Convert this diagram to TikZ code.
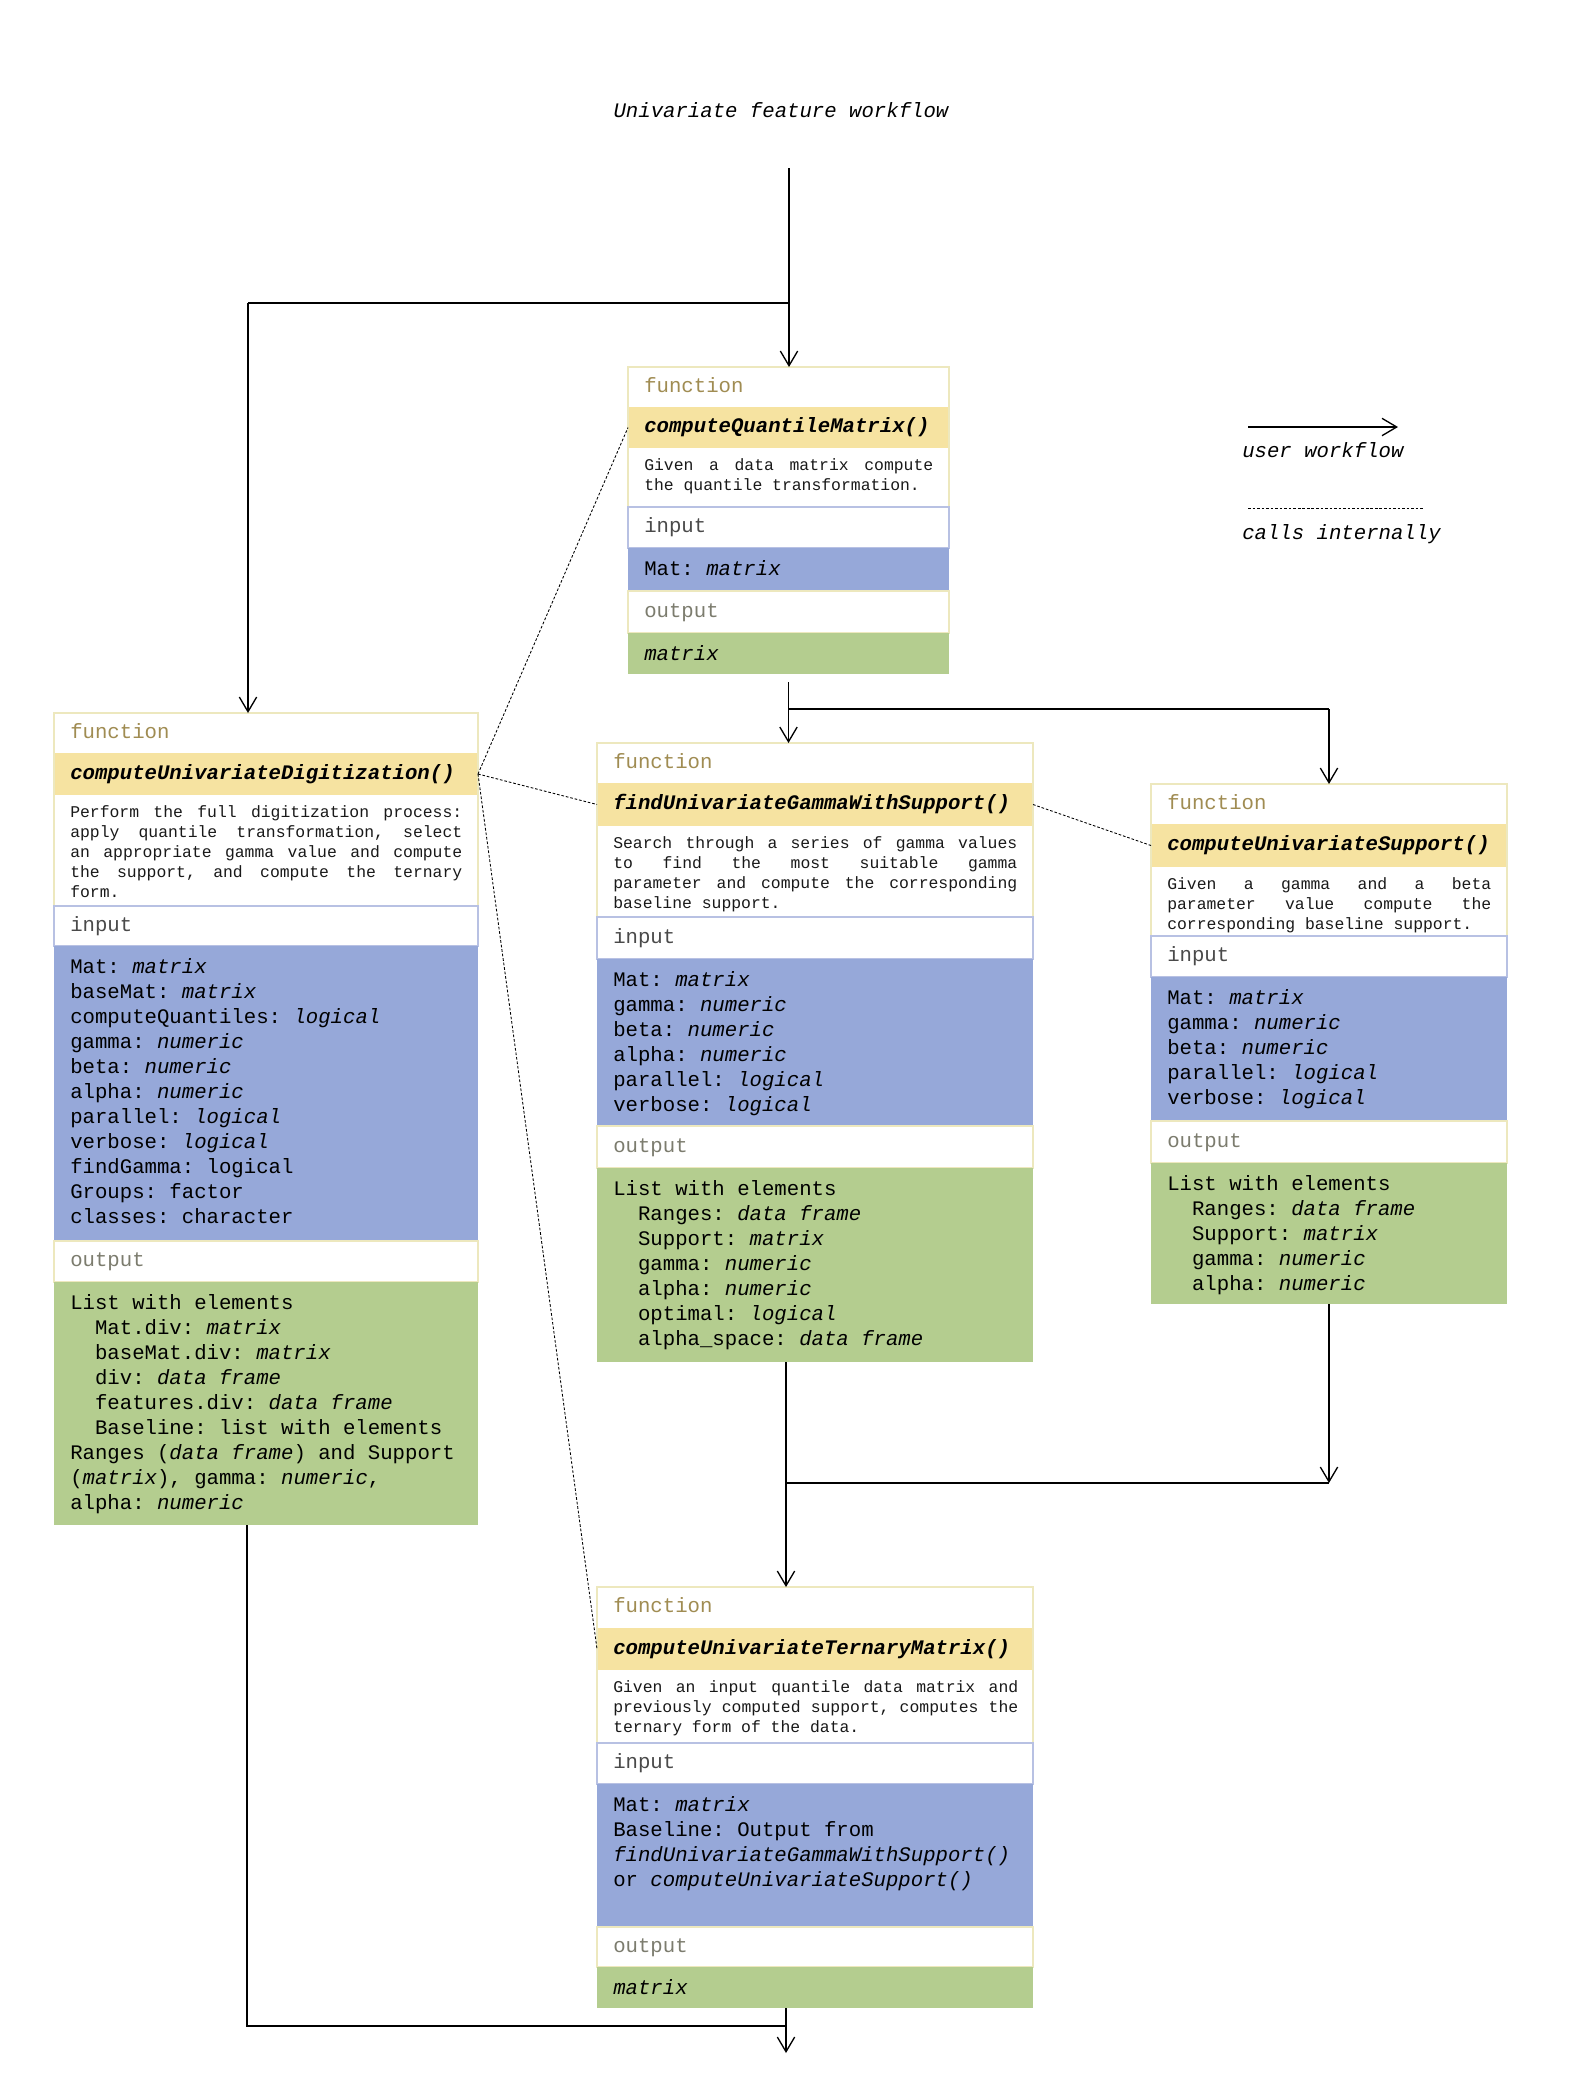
\documentclass[tikz,border=0pt]{standalone}
\usepackage{fontspec}
\setmainfont{Liberation Serif}
\newfontfamily\mono{Liberation Mono}
\usetikzlibrary{arrows.meta,fit,calc}
\definecolor{ylwband}{HTML}{F6E3A1}
\definecolor{blueband}{HTML}{96A8D9}
\definecolor{greenband}{HTML}{B4CD8F}
\definecolor{creamline}{HTML}{EDE8BE}
\definecolor{lavline}{HTML}{B8C1E3}
\definecolor{fncol}{HTML}{A08C52}
\definecolor{incol}{HTML}{4A4A4A}
\definecolor{outcol}{HTML}{7C7C6E}
\newcommand\mfont{\mono\fontsize{15.5}{18.75}\selectfont\frenchspacing}
\newcommand\dfont{\mono\fontsize{12.3}{15}\selectfont\frenchspacing}
\newcommand\fixsp{\spaceskip=0pt\xspaceskip=0pt\frenchspacing}
\newcommand\jl[1]{\makebox[\hsize][s]{\spaceskip=\fontdimen2\font plus 60pt\relax #1}\\}
\newcommand\ind{\hspace*{1.2em}}
\tikzset{
  band/.style={inner sep=0pt, outer sep=0pt},
  fnband/.style={band, fill=white},
  nameband/.style={band, fill=ylwband},
  descband/.style={band, fill=white},
  inband/.style={band, fill=white, draw=lavline, line width=1.1pt},
  invband/.style={band, fill=blueband},
  outband/.style={band, fill=white, draw=creamline, line width=1.1pt},
  outvband/.style={band, fill=greenband},
  boxline/.style={draw=creamline, line width=1.1pt},
  hdr/.style={anchor=west, xshift=12pt, inner sep=0pt, font=\mfont, execute at begin node=\strut},
  fnlbl/.style={hdr, text=fncol},
  inlbl/.style={hdr, text=incol},
  outlbl/.style={hdr, text=outcol},
  namelbl/.style={hdr, font=\mfont\bfseries\itshape},
  listtxt/.style={anchor=north west, xshift=12pt, yshift=-7pt, inner sep=0pt, font=\mfont, align=left, execute at begin node=\fixsp},
  desctxt/.style={anchor=north west, xshift=12pt, yshift=-6.5pt, inner sep=0pt, font=\dfont, align=left, text=black!90, execute at begin node=\fixsp},
  flow/.style={draw=black, line width=1pt, -{Straight Barb[length=11pt,width=13pt]}},
  flowline/.style={draw=black, line width=1pt},
  calls/.style={draw=black, line width=0.65pt, dash pattern=on 2pt off 1.4pt},
  legtxt/.style={anchor=west, inner sep=0pt, font=\mfont\itshape, execute at begin node=\strut},
}
\begin{document}
\begin{tikzpicture}[x=0.75pt, y=-0.75pt]
\useasboundingbox[fill=white] (0,0) rectangle (1575,2100);

% title
\node[font=\mfont\itshape, inner sep=0pt] (title) at (781,112) {\strut Univariate feature workflow};

% ---------- Box Q ----------
\node[fnband, fit={(628,367)(949,407)}] (Q-fn) {};
\node[nameband, fit={(628,407)(949,448)}] (Q-name) {};
\node[descband, fit={(628,448)(949,507)}] (Q-desc) {};
\draw[boxline] (Q-fn.north west) rectangle (Q-desc.south east);
\node[inband, fit={(628,507)(949,548)}] (Q-in) {};
\node[invband, fit={(628,548)(949,591)}] (Q-inv) {};
\node[outband, fit={(628,591)(949,633)}] (Q-out) {};
\node[outvband, fit={(628,633)(949,674)}] (Q-outv) {};
\node[fnlbl] (Q-fnt) at (Q-fn.west) {function};
\node[namelbl] (Q-namet) at (Q-name.west) {computeQuantileMatrix()};
\node[desctxt, text width=216.75pt] (Q-desct) at (Q-desc.north west)
  {\strut\jl{Given a data matrix compute}the quantile transformation.};
\node[inlbl] (Q-int) at (Q-in.west) {input};
\node[listtxt] (Q-invt) at (Q-inv.north west) {\strut Mat: \textit{matrix}};
\node[outlbl] (Q-outt) at (Q-out.west) {output};
\node[listtxt] (Q-outvt) at (Q-outv.north west) {\strut\textit{matrix}};

% ---------- Box D ----------
\node[fnband, fit={(54,713)(478,753)}] (D-fn) {};
\node[nameband, fit={(54,753)(478,795)}] (D-name) {};
\node[descband, fit={(54,795)(478,906)}] (D-desc) {};
\draw[boxline] (D-fn.north west) rectangle (D-desc.south east);
\node[inband, fit={(54,906)(478,946)}] (D-in) {};
\node[invband, fit={(54,946)(478,1241)}] (D-inv) {};
\node[outband, fit={(54,1241)(478,1282)}] (D-out) {};
\node[outvband, fit={(54,1282)(478,1525)}] (D-outv) {};
\node[fnlbl] (D-fnt) at (D-fn.west) {function};
\node[namelbl] (D-namet) at (D-name.west) {computeUnivariateDigitization()};
\node[desctxt, text width=294pt] (D-desct) at (D-desc.north west)
  {\strut\jl{Perform the full digitization process:}\jl{apply quantile transformation, select}\jl{an appropriate gamma value and compute}\jl{the support, and compute the ternary}form.};
\node[inlbl] (D-int) at (D-in.west) {input};
\node[listtxt] (D-invt) at (D-inv.north west) {\strut Mat: \textit{matrix}\\
  baseMat: \textit{matrix}\\
  computeQuantiles: \textit{logical}\\
  gamma: \textit{numeric}\\
  beta: \textit{numeric}\\
  alpha: \textit{numeric}\\
  parallel: \textit{logical}\\
  verbose: \textit{logical}\\
  findGamma: logical\\
  Groups: factor\\
  classes: character};
\node[outlbl] (D-outt) at (D-out.west) {output};
\node[listtxt] (D-outvt) at (D-outv.north west) {\strut List with elements\\
  \ind Mat.div: \textit{matrix}\\
  \ind baseMat.div: \textit{matrix}\\
  \ind div: \textit{data frame}\\
  \ind features.div: \textit{data frame}\\
  \ind Baseline: list with elements\\
  Ranges (\textit{data frame}) and Support\\
  (\textit{matrix}), gamma: \textit{numeric},\\
  alpha: \textit{numeric}};

% ---------- Box G ----------
\node[fnband, fit={(597,743)(1033,783)}] (G-fn) {};
\node[nameband, fit={(597,783)(1033,826)}] (G-name) {};
\node[descband, fit={(597,826)(1033,917)}] (G-desc) {};
\draw[boxline] (G-fn.north west) rectangle (G-desc.south east);
\node[inband, fit={(597,917)(1033,959)}] (G-in) {};
\node[invband, fit={(597,959)(1033,1126)}] (G-inv) {};
\node[outband, fit={(597,1126)(1033,1168)}] (G-out) {};
\node[outvband, fit={(597,1168)(1033,1362)}] (G-outv) {};
\node[fnlbl] (G-fnt) at (G-fn.west) {function};
\node[namelbl] (G-namet) at (G-name.west) {findUnivariateGammaWithSupport()};
\node[desctxt, text width=303pt] (G-desct) at (G-desc.north west)
  {\strut\jl{Search through a series of gamma values}\jl{to find the most suitable gamma}\jl{parameter and compute the corresponding}baseline support.};
\node[inlbl] (G-int) at (G-in.west) {input};
\node[listtxt] (G-invt) at (G-inv.north west) {\strut Mat: \textit{matrix}\\
  gamma: \textit{numeric}\\
  beta: \textit{numeric}\\
  alpha: \textit{numeric}\\
  parallel: \textit{logical}\\
  verbose: \textit{logical}};
\node[outlbl] (G-outt) at (G-out.west) {output};
\node[listtxt] (G-outvt) at (G-outv.north west) {\strut List with elements\\
  \ind Ranges: \textit{data frame}\\
  \ind Support: \textit{matrix}\\
  \ind gamma: \textit{numeric}\\
  \ind alpha: \textit{numeric}\\
  \ind optimal: \textit{logical}\\
  \ind alpha\_space: \textit{data frame}};

% ---------- Box S ----------
\node[fnband, fit={(1151,784)(1507,824)}] (S-fn) {};
\node[nameband, fit={(1151,824)(1507,867)}] (S-name) {};
\node[descband, fit={(1151,867)(1507,936)}] (S-desc) {};
\draw[boxline] (S-fn.north west) rectangle (S-desc.south east);
\node[inband, fit={(1151,936)(1507,977)}] (S-in) {};
\node[invband, fit={(1151,977)(1507,1121)}] (S-inv) {};
\node[outband, fit={(1151,1121)(1507,1163)}] (S-out) {};
\node[outvband, fit={(1151,1163)(1507,1304)}] (S-outv) {};
\node[fnlbl] (S-fnt) at (S-fn.west) {function};
\node[namelbl] (S-namet) at (S-name.west) {computeUnivariateSupport()};
\node[desctxt, text width=243pt] (S-desct) at (S-desc.north west)
  {\strut\jl{Given a gamma and a beta}\jl{parameter value compute the}corresponding baseline support.};
\node[inlbl] (S-int) at (S-in.west) {input};
\node[listtxt] (S-invt) at (S-inv.north west) {\strut Mat: \textit{matrix}\\
  gamma: \textit{numeric}\\
  beta: \textit{numeric}\\
  parallel: \textit{logical}\\
  verbose: \textit{logical}};
\node[outlbl] (S-outt) at (S-out.west) {output};
\node[listtxt] (S-outvt) at (S-outv.north west) {\strut List with elements\\
  \ind Ranges: \textit{data frame}\\
  \ind Support: \textit{matrix}\\
  \ind gamma: \textit{numeric}\\
  \ind alpha: \textit{numeric}};

% ---------- Box T ----------
\node[fnband, fit={(597,1587)(1033,1628)}] (T-fn) {};
\node[nameband, fit={(597,1628)(1033,1670)}] (T-name) {};
\node[descband, fit={(597,1670)(1033,1743)}] (T-desc) {};
\draw[boxline] (T-fn.north west) rectangle (T-desc.south east);
\node[inband, fit={(597,1743)(1033,1784)}] (T-in) {};
\node[invband, fit={(597,1784)(1033,1927)}] (T-inv) {};
\node[outband, fit={(597,1927)(1033,1967)}] (T-out) {};
\node[outvband, fit={(597,1967)(1033,2008)}] (T-outv) {};
\node[fnlbl] (T-fnt) at (T-fn.west) {function};
\node[namelbl] (T-namet) at (T-name.west) {computeUnivariateTernaryMatrix()};
\node[desctxt, text width=303.75pt] (T-desct) at (T-desc.north west)
  {\strut\jl{Given an input quantile data matrix and}\jl{previously computed support, computes the}ternary form of the data.};
\node[inlbl] (T-int) at (T-in.west) {input};
\node[listtxt] (T-invt) at (T-inv.north west) {\strut Mat: \textit{matrix}\\
  Baseline: Output from\\
  \textit{findUnivariateGammaWithSupport()}\\
  or \textit{computeUnivariateSupport()}};
\node[outlbl] (T-outt) at (T-out.west) {output};
\node[listtxt] (T-outvt) at (T-outv.north west) {\strut\textit{matrix}};

% ---------- user workflow connectors ----------
\coordinate (start) at (789,168);
\coordinate (split1) at (789,303);
\coordinate (dturn) at (248,303);
\draw[flow] (start) -- (start |- Q-fn.north);
\draw[flowline] (split1) -- (dturn);
\draw[flow] (dturn) -- (dturn |- D-fn.north);

\coordinate (qsplit) at (788,709);
\draw[flow] ([yshift=-6pt]Q-outv.south) -- (Q-outv.south |- G-fn.north);
\draw[flowline] (qsplit) -- (qsplit -| S-fn.north);
\draw[flow] (qsplit -| S-fn.north) -- (S-fn.north);

\coordinate (mrg) at (786,1483);
\draw[flow] ($(G-outv.south)+(-29,0)$) -- ($(T-fn.north)+(-29,0)$);
\draw[flowline] (mrg) -- (mrg -| S-outv.south);
\draw[flow] (S-outv.south) -- (S-outv.south |- mrg);

\coordinate (btm) at (786,2026);
\coordinate (fin) at (786,2053);
\draw[flowline] ($(D-outv.south)+(-19,0)$) |- (btm);
\draw[flow] ($(T-outv.south)+(-29,0)$) -- (fin);

% ---------- internal calls ----------
\draw[calls] (D-name.east) -- (Q-name.west);
\draw[calls] (D-name.east) -- (G-name.west);
\draw[calls] (D-name.east) -- (T-name.west);
\draw[calls] (G-name.east) -- (S-name.west);

% ---------- legend ----------
\coordinate (lg1a) at (1248,427);
\coordinate (lg1b) at (1398,427);
\draw[flow] (lg1a) -- (lg1b);
\node[legtxt] (lgt1) at (1242,452) {user workflow};
\coordinate (lg2a) at (1248,508);
\coordinate (lg2b) at (1423,508);
\draw[calls] (lg2a) -- (lg2b);
\node[legtxt] (lgt2) at (1242,534) {calls internally};
\end{tikzpicture}
\end{document}
